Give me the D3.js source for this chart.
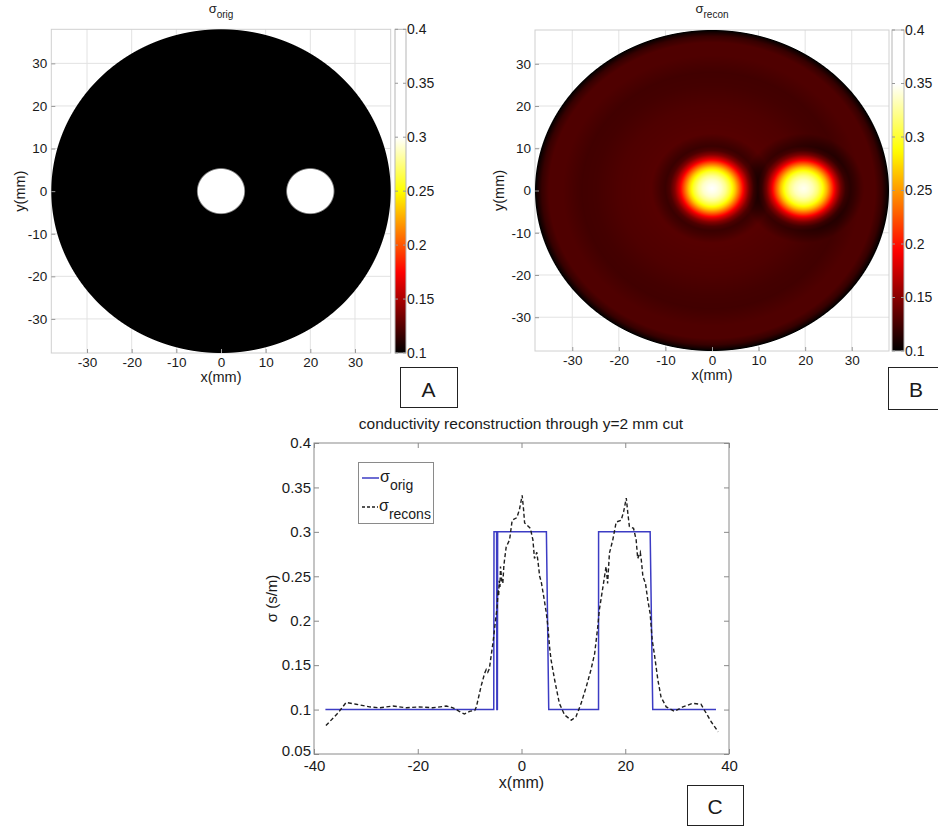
<!DOCTYPE html>
<html>
<head>
<meta charset="utf-8">
<script src="https://cdn.jsdelivr.net/npm/d3@7"></script>
<style>
  body { margin: 0; background: #fff; }
  svg { display: block; }
  text { font-family: "Liberation Sans", Arial, sans-serif; fill: #1a1a1a; }
</style>
</head>
<body>
<svg id="fig" width="938" height="827"></svg>
<script>
// ---------- data ----------
const mapTicks = [-30, -20, -10, 0, 10, 20, 30];
const colorbarTicks = [0.1, 0.15, 0.2, 0.25, 0.3, 0.35, 0.4];
const phantomRadius = 38;                 // mm
const inclusionX = [0, 20];               // mm
const inclusionY = [0, 0];
const inclusionRadius = [5.3, 5.3];
const sigmaBackground = 0.1;              // S/m
const sigmaInclusion = 0.3;

// reconstructed map: background level versus radius, and blob profile versus distance to blob centre
const reconBgRadius = [0, 12, 20, 25, 28, 32, 35, 36.5, 37.5, 38];
const reconBgSigma  = [0.133, 0.132, 0.129, 0.125, 0.124, 0.129, 0.129, 0.12, 0.107, 0.098];
const blobX = [0, 19.7];
const blobY = [0.5, 0.5];
const blobRadius = [0, 1, 2, 3, 4, 5, 6, 7, 8, 9, 10, 11, 13];
const blobSigma  = [0.345, 0.34, 0.332, 0.317, 0.294, 0.262, 0.22, 0.177, 0.144, 0.124, 0.117, 0.12, 0.128];

// profile along the y = 2 mm cut
const cutXTicks = [-40, -20, 0, 20, 40];
const cutYTicks = [0.05, 0.1, 0.15, 0.2, 0.25, 0.3, 0.35, 0.4];
const origCutX = [-37.8, -5.35, -5.3, -4.8, -4.75, -4.65, -4.6, 4.8, 5.25, 14.85, 14.86, 24.8, 25.3, 37.5];
const origCutSigma = [0.1, 0.1, 0.3, 0.3, 0.1, 0.1, 0.3, 0.3, 0.1, 0.1, 0.3, 0.3, 0.1, 0.1];
const reconCutX = [-37.7, -35.4, -33.8, -31.9, -29.3, -27.4, -24.8, -22.2, -19.7, -17.1, -14.5, -13.2, -12.0, -11.0, -10.0, -9.0, -8.7, -7.8, -7.1, -6.8, -6.5, -6.2, -5.5, -5.0, -4.7, -4.5, -4.4, -4.3, -4.15, -4.05, -3.8, -3.6, -3.4, -3.28, -2.95, -2.3, -1.8, -0.9, -0.4, 0.13, 0.4, 0.6, 1.0, 1.7, 2.2, 2.5, 2.95, 3.15, 3.5, 3.8, 4.4, 4.8, 5.1, 5.4, 5.7, 6.4, 7.3, 8.3, 9.6, 10.5, 11.5, 12.5, 13.4, 14.1, 14.7, 15.0, 15.7, 16.3, 16.6, 16.95, 17.6, 18.25, 19.2, 19.7, 20.2, 20.5, 20.8, 21.6, 22.1, 22.4, 22.9, 23.1, 23.4, 23.9, 24.35, 24.8, 25.2, 25.6, 26.3, 26.9, 27.9, 29.5, 31.1, 33.0, 34.6, 35.6, 36.6, 37.9];
const reconCutSigma = [0.082, 0.096, 0.108, 0.106, 0.103, 0.102, 0.104, 0.102, 0.103, 0.102, 0.104, 0.102, 0.098, 0.095, 0.098, 0.099, 0.103, 0.126, 0.141, 0.145, 0.142, 0.146, 0.175, 0.201, 0.215, 0.235, 0.228, 0.245, 0.238, 0.261, 0.245, 0.242, 0.262, 0.268, 0.283, 0.291, 0.313, 0.316, 0.325, 0.341, 0.325, 0.310, 0.308, 0.304, 0.291, 0.270, 0.277, 0.268, 0.250, 0.244, 0.223, 0.208, 0.193, 0.171, 0.156, 0.133, 0.107, 0.094, 0.088, 0.092, 0.107, 0.126, 0.145, 0.163, 0.193, 0.212, 0.238, 0.261, 0.242, 0.276, 0.291, 0.311, 0.313, 0.323, 0.338, 0.321, 0.306, 0.304, 0.291, 0.270, 0.277, 0.268, 0.250, 0.242, 0.223, 0.208, 0.178, 0.163, 0.133, 0.114, 0.103, 0.098, 0.103, 0.107, 0.106, 0.096, 0.086, 0.075];

// ---------- helpers ----------
const svg = d3.select("#fig");
svg.append("rect").attr("width", 938).attr("height", 827).attr("fill", "#fff");
const FONT = '"Liberation Sans", Arial, sans-serif';

// MATLAB-style "hot" colormap
function hot(t) {
  t = Math.max(0, Math.min(1, t));
  const r = Math.min(1, t / 0.375);
  const g = Math.max(0, Math.min(1, (t - 0.375) / 0.375));
  const b = Math.max(0, Math.min(1, (t - 0.75) / 0.25));
  return [Math.round(r * 255), Math.round(g * 255), Math.round(b * 255)];
}
const rgbStr = c => `rgb(${c[0]},${c[1]},${c[2]})`;
const mix = (a, b, t) => [0, 1, 2].map(k => Math.round(a[k] + (b[k] - a[k]) * t));

// phantom: inclusions over a uniform background; edges are display-antialiased
function origPaint(color) {
  const cBg = color(sigmaBackground), cIn = color(sigmaInclusion);
  return (x, y, pxPerMm) => {
    let t = 0;
    for (let i = 0; i < inclusionX.length; i++) {
      const d = Math.hypot(x - inclusionX[i], y - inclusionY[i]);
      t = Math.max(t, Math.max(0, Math.min(1, (inclusionRadius[i] - d) * pxPerMm / 1.8 + 0.5)));
    }
    return mix(cBg, cIn, t);
  };
}

const reconBg = d3.scaleLinear().domain(reconBgRadius).range(reconBgSigma).clamp(true);
const blobProfile = d3.scaleLinear().domain(blobRadius).range(blobSigma).clamp(true);
const blobTail = blobSigma[blobSigma.length - 1];
function reconPaint(color) {
  return (x, y) => {
    let v = reconBg(Math.hypot(x, y));
    for (let i = 0; i < blobX.length; i++) {
      v += blobProfile(Math.hypot(x - blobX[i], y - blobY[i])) - blobTail;
    }
    return color(v);
  };
}

function drawField(g, xs, ys, paint) {
  const [px0, px1] = xs.range();
  const [py1, py0] = ys.range();
  const X0 = Math.floor(px0), Y0 = Math.floor(py0);
  const W = Math.ceil(px1) - X0, H = Math.ceil(py1) - Y0;
  const cv = document.createElement("canvas");
  cv.width = W; cv.height = H;
  const ctx = cv.getContext("2d");
  const img = ctx.createImageData(W, H);
  const pxPerMm = Math.abs(xs(1) - xs(0));
  for (let j = 0; j < H; j++) {
    const y = ys.invert(Y0 + j + 0.5);
    for (let i = 0; i < W; i++) {
      const x = xs.invert(X0 + i + 0.5);
      const r = Math.hypot(x, y);
      const cov = Math.max(0, Math.min(1, (phantomRadius - r) * pxPerMm + 0.5));
      if (cov <= 0) continue;
      const c = paint(x, y, pxPerMm);
      const k = (j * W + i) * 4;
      img.data[k] = c[0]; img.data[k + 1] = c[1]; img.data[k + 2] = c[2];
      img.data[k + 3] = Math.round(cov * 255);
    }
  }
  ctx.putImageData(img, 0, 0);
  g.append("image").attr("x", X0).attr("y", Y0).attr("width", W).attr("height", H)
    .attr("href", cv.toDataURL());
}

function mapPanel(opts) {
  const { xRange, yRange, cbX, cbW, painter, cmax, title, sub, id } = opts;
  const xs = d3.scaleLinear().domain([-phantomRadius, phantomRadius]).range(xRange);
  const ys = d3.scaleLinear().domain([-phantomRadius, phantomRadius]).range(yRange);
  const color = d3.scaleSequential(hot).domain([0.1, cmax]).clamp(true);
  const g = svg.append("g");
  const top = yRange[1], bot = yRange[0], left = xRange[0], right = xRange[1];

  // grid
  g.append("g").selectAll("line").data(mapTicks).join("line")
    .attr("x1", d => xs(d)).attr("x2", d => xs(d)).attr("y1", top).attr("y2", bot)
    .attr("stroke", "#e2e2e2").attr("stroke-width", 1);
  g.append("g").selectAll("line").data(mapTicks).join("line")
    .attr("y1", d => ys(d)).attr("y2", d => ys(d)).attr("x1", left).attr("x2", right)
    .attr("stroke", "#e2e2e2").attr("stroke-width", 1);
  g.append("rect").attr("x", left).attr("y", top).attr("width", right - left).attr("height", bot - top)
    .attr("fill", "none").attr("stroke", "#d0d0d0");

  drawField(g, xs, ys, painter(color));

  const fmt = d => String(d);
  const ax = g.append("g").attr("transform", `translate(0,${bot})`)
    .call(d3.axisBottom(xs).tickValues(mapTicks).tickSize(-4).tickPadding(4).tickFormat(fmt));
  const ay = g.append("g").attr("transform", `translate(${left},0)`)
    .call(d3.axisLeft(ys).tickValues(mapTicks).tickSize(-4).tickPadding(4).tickFormat(fmt));
  [ax, ay].forEach(a => {
    a.select(".domain").remove();
    a.selectAll(".tick line").attr("stroke", "#999");
    a.selectAll("text").attr("font-size", 13.5).attr("fill", "#1a1a1a").attr("font-family", FONT);
  });

  // labels
  const cx = xs(0);
  g.append("text").attr("x", cx).attr("y", bot + 29).attr("text-anchor", "middle")
    .attr("font-size", 14.5).text("x(mm)");
  g.append("text").attr("transform", `translate(${opts.ylabelX},${ys(0)}) rotate(-90)`)
    .attr("text-anchor", "middle").attr("font-size", 14.5).text("y(mm)");
  const t = g.append("text").attr("x", cx).attr("y", 13).attr("text-anchor", "middle").attr("font-size", 13);
  t.append("tspan").text(title);
  t.append("tspan").attr("dy", 5).attr("font-size", 10).text(sub);

  // colorbar
  const cs = d3.scaleLinear().domain([0.1, 0.4]).range([bot, top]);
  const grad = svg.append("defs").append("linearGradient").attr("id", id)
    .attr("x1", 0).attr("y1", 1).attr("x2", 0).attr("y2", 0);
  d3.range(0, 61).forEach(i => {
    const v = 0.1 + i * 0.005;
    grad.append("stop").attr("offset", (v - 0.1) / 0.3).attr("stop-color", rgbStr(color(v)));
  });
  g.append("rect").attr("x", cbX).attr("y", top).attr("width", cbW).attr("height", bot - top)
    .attr("fill", `url(#${id})`).attr("stroke", "#b5b5b5").attr("stroke-width", 1);
  g.append("g").selectAll("line").data(colorbarTicks).join("line")
    .attr("x1", cbX + cbW - 3).attr("x2", cbX + cbW).attr("y1", d => cs(d)).attr("y2", d => cs(d))
    .attr("stroke", "#999");
  g.append("g").selectAll("line").data(colorbarTicks).join("line")
    .attr("x1", cbX).attr("x2", cbX + 3).attr("y1", d => cs(d)).attr("y2", d => cs(d))
    .attr("stroke", "#999");
  g.append("g").selectAll("text").data(colorbarTicks).join("text")
    .attr("x", cbX + cbW + 1).attr("y", d => cs(d)).attr("dy", "0.35em")
    .attr("font-size", 14).text(d => String(d));

  // panel tag
  g.append("rect").attr("x", opts.tag[0]).attr("y", opts.tag[1]).attr("width", opts.tag[2]).attr("height", opts.tag[3])
    .attr("fill", "#fff").attr("stroke", "#222").attr("stroke-width", 1);
  g.append("text").attr("x", opts.tagText[0]).attr("y", opts.tagText[1]).attr("text-anchor", "middle")
    .attr("font-size", 21).text(opts.letter);
}

mapPanel({ id: "cbA", xRange: [51.3, 390.7], yRange: [353, 29.3], cbX: 395, cbW: 11,
  painter: origPaint, cmax: 0.3, title: "σ", sub: "orig", ylabelX: 25,
  tag: [400.5, 367.5, 57, 40], tagText: [428.5, 397], letter: "A" });
mapPanel({ id: "cbB", xRange: [535, 889], yRange: [351, 30], cbX: 892, cbW: 12,
  painter: reconPaint, cmax: 0.35, title: "σ", sub: "recon", ylabelX: 504,
  tag: [888.5, 367.5, 60, 42], tagText: [916, 397], letter: "B" });

// ---------- profile panel ----------
(function () {
  const L = 314, R = 729, T = 443, B = 754;
  const x = d3.scaleLinear().domain([-40, 40]).range([L, R]);
  const y = d3.scaleLinear().domain([0.05, 0.4]).range([B, T]);
  const g = svg.append("g");
  const fmt = d => String(d);

  g.append("rect").attr("x", L).attr("y", T).attr("width", R - L).attr("height", B - T)
    .attr("fill", "#fff").attr("stroke", "#8a8a8a");

  const axes = [
    g.append("g").attr("transform", `translate(0,${B})`)
      .call(d3.axisBottom(x).tickValues(cutXTicks).tickSize(-5).tickPadding(6).tickFormat(fmt)),
    g.append("g").attr("transform", `translate(0,${T})`)
      .call(d3.axisTop(x).tickValues(cutXTicks).tickSize(-5).tickFormat("")),
    g.append("g").attr("transform", `translate(${L},0)`)
      .call(d3.axisLeft(y).tickValues(cutYTicks).tickSize(-5).tickPadding(3).tickFormat(fmt)),
    g.append("g").attr("transform", `translate(${R},0)`)
      .call(d3.axisRight(y).tickValues(cutYTicks).tickSize(-5).tickFormat(""))
  ];
  axes.forEach(a => {
    a.select(".domain").remove();
    a.selectAll(".tick line").attr("stroke", "#8a8a8a");
    a.selectAll("text").attr("font-size", 15).attr("fill", "#1a1a1a").attr("font-family", FONT);
  });
  // the lowest y label sits just above the corner so it clears the first x label
  axes[2].selectAll(".tick").filter(d => d === 0.05).select("text").attr("dy", "0.1em");

  const line = d3.line().x(d => x(d[0])).y(d => y(d[1]));
  g.append("path").datum(d3.zip(origCutX, origCutSigma)).attr("d", line)
    .attr("fill", "none").attr("stroke", "#3c3cc4").attr("stroke-width", 1.5);
  g.append("path").datum(d3.zip(reconCutX, reconCutSigma)).attr("d", line)
    .attr("fill", "none").attr("stroke", "#1e1e1e").attr("stroke-width", 1.4)
    .attr("stroke-dasharray", "4,2.5");

  g.append("text").attr("x", 521).attr("y", 429).attr("text-anchor", "middle")
    .attr("font-size", 15.5).text("conductivity reconstruction through y=2 mm cut");
  g.append("text").attr("x", x(0)).attr("y", 788).attr("text-anchor", "middle")
    .attr("font-size", 16).text("x(mm)");
  g.append("text").attr("transform", `translate(277,${y(0.225)}) rotate(-90)`)
    .attr("text-anchor", "middle").attr("font-size", 15).text("σ (s/m)");

  // legend
  g.append("rect").attr("x", 358.5).attr("y", 462.5).attr("width", 75).attr("height", 61)
    .attr("fill", "#fff").attr("stroke", "#8a8a8a");
  g.append("line").attr("x1", 362).attr("x2", 379).attr("y1", 478).attr("y2", 478)
    .attr("stroke", "#3c3cc4").attr("stroke-width", 1.5);
  g.append("line").attr("x1", 362).attr("x2", 378).attr("y1", 507).attr("y2", 507)
    .attr("stroke", "#1e1e1e").attr("stroke-width", 1.4).attr("stroke-dasharray", "3,2");
  const l1 = g.append("text").attr("x", 380).attr("y", 482).attr("font-size", 16);
  l1.append("tspan").text("σ");
  l1.append("tspan").attr("dy", 8).attr("font-size", 14).text("orig");
  const l2 = g.append("text").attr("x", 379).attr("y", 511).attr("font-size", 16);
  l2.append("tspan").text("σ");
  l2.append("tspan").attr("dy", 8).attr("font-size", 14).text("recons");

  // panel tag
  g.append("rect").attr("x", 687.5).attr("y", 785.5).attr("width", 56).attr("height", 40)
    .attr("fill", "#fff").attr("stroke", "#222");
  g.append("text").attr("x", 715).attr("y", 814).attr("text-anchor", "middle")
    .attr("font-size", 21).text("C");
})();
</script>
</body>
</html>
